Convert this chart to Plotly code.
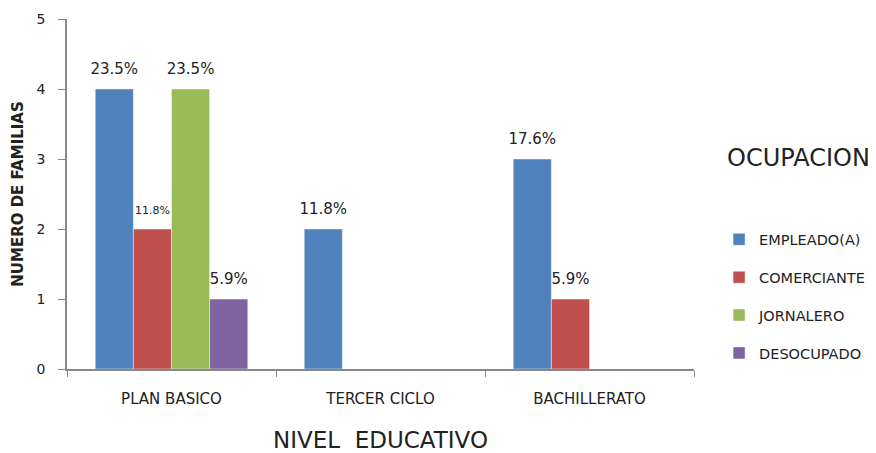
import plotly.graph_objects as go

categories = ["PLAN BASICO", "TERCER CICLO", "BACHILLERATO"]
series_names = ["EMPLEADO(A)", "COMERCIANTE", "JORNALERO", "DESOCUPADO"]
empleado = [4, 2, 3]
comerciante = [2, 0, 1]
jornalero = [4, 0, 0]
desocupado = [1, 0, 0]
empleado_lbl = ["23.5%", "11.8%", "17.6%"]
comerciante_lbl = ["11.8%", "", "5.9%"]
jornalero_lbl = ["23.5%", "", ""]
desocupado_lbl = ["5.9%", "", ""]

colors = ["#4F81BD", "#C0504D", "#9BBB59", "#8064A2"]
values = [empleado, comerciante, jornalero, desocupado]
labels = [empleado_lbl, comerciante_lbl, jornalero_lbl, desocupado_lbl]
label_sizes = [[15, 15, 15], [11, 15, 15], [15, 15, 15], [15, 15, 15]]

FONT = "DejaVu Sans, Verdana, sans-serif"

fig = go.Figure()
for name, vals, lbl, col, sz in zip(series_names, values, labels, colors, label_sizes):
    txt = [("<span style='font-size:%dpx'>%s</span><br> " % (s, t)) if t else "" for t, s in zip(lbl, sz)]
    fig.add_trace(go.Bar(
        x=categories, y=vals, name=name,
        marker=dict(color=col, line=dict(color="rgba(255,255,255,0.45)", width=1)),
        text=txt, textposition="outside", cliponaxis=False, constraintext="none",
        textfont=dict(size=8, color="#222222", family=FONT),
        legendgroup=name,
    ))

fig.update_layout(
    width=868, height=445,
    margin=dict(l=59, r=182, t=11, b=84, autoexpand=False),
    paper_bgcolor="white", plot_bgcolor="white",
    barmode="group", bargap=0.27, bargroupgap=0,
    font=dict(family=FONT, color="#222222"),
    showlegend=True,
    legend=dict(x=1.040, y=0.416, xanchor="left", yanchor="top",
                font=dict(size=14.5, color="#222222", family=FONT), tracegroupgap=16,
                itemwidth=30, traceorder="grouped"),
    xaxis=dict(showline=True, linecolor="#888888", linewidth=1.5, automargin=False,
               ticks="outside", ticklen=6, tickcolor="#888888", tickson="boundaries",
               ticklabelstandoff=15,
               tickfont=dict(size=15, color="#222222"), showgrid=False,
               title=dict(text="NIVEL  EDUCATIVO", font=dict(size=23, color="#222222"), standoff=30)),
    yaxis=dict(range=[0, 5], dtick=1, showline=True, linecolor="#888888", linewidth=1.5,
               automargin=False,
               ticks="outside", ticklen=7, tickcolor="#888888", showgrid=False, zeroline=False,
               ticklabelstandoff=10,
               tickfont=dict(size=14, color="#222222"),
               title=dict(text="<b>NUMERO DE FAMILIAS</b>", font=dict(size=15, color="#222222"), standoff=9)),
    annotations=[dict(text="OCUPACION", xref="paper", yref="paper", x=1.166, y=0.603,
                      xanchor="center", yanchor="middle", showarrow=False,
                      font=dict(size=24, color="#222222"))],
)

fig.write_html("out.html")
